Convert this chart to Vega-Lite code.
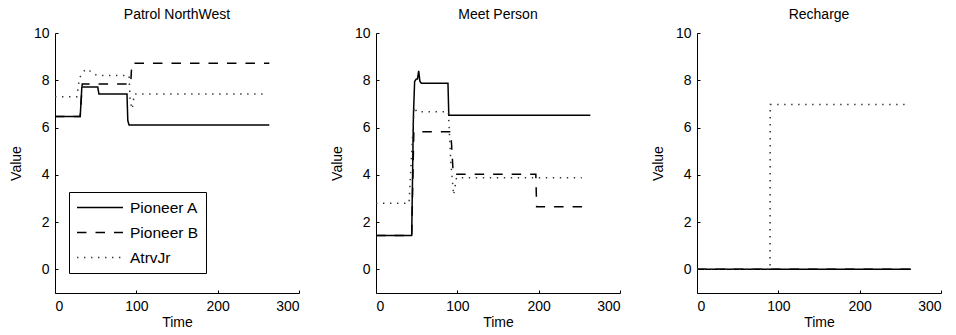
{
  "$schema": "https://vega.github.io/schema/vega-lite/v6.json",
  "padding": {"left": 9, "top": 8, "right": 5, "bottom": 5},
  "background": "white",
  "datasets": {
    "p1": [
      {"s": "Pioneer A", "i": 1, "t": 0, "v": 6.47},
      {"s": "Pioneer A", "i": 2, "t": 31, "v": 6.47},
      {"s": "Pioneer A", "i": 3, "t": 33, "v": 7.72},
      {"s": "Pioneer A", "i": 4, "t": 52.5, "v": 7.72},
      {"s": "Pioneer A", "i": 5, "t": 54, "v": 7.42},
      {"s": "Pioneer A", "i": 6, "t": 88.5, "v": 7.42},
      {"s": "Pioneer A", "i": 7, "t": 89.5, "v": 6.3},
      {"s": "Pioneer A", "i": 8, "t": 91, "v": 6.11},
      {"s": "Pioneer A", "i": 9, "t": 263.5, "v": 6.11},
      {"s": "Pioneer B", "i": 1, "t": 0, "v": 6.47},
      {"s": "Pioneer B", "i": 2, "t": 31, "v": 6.47},
      {"s": "Pioneer B", "i": 3, "t": 33.5, "v": 7.84},
      {"s": "Pioneer B", "i": 4, "t": 93, "v": 7.84},
      {"s": "Pioneer B", "i": 5, "t": 94.5, "v": 8.72},
      {"s": "Pioneer B", "i": 6, "t": 263.5, "v": 8.72},
      {"s": "AtrvJr", "i": 1, "t": 0, "v": 7.3},
      {"s": "AtrvJr", "i": 2, "t": 27, "v": 7.3},
      {"s": "AtrvJr", "i": 3, "t": 30, "v": 8.1},
      {"s": "AtrvJr", "i": 4, "t": 36, "v": 8.4},
      {"s": "AtrvJr", "i": 5, "t": 40, "v": 8.48},
      {"s": "AtrvJr", "i": 6, "t": 46, "v": 8.3},
      {"s": "AtrvJr", "i": 7, "t": 52, "v": 8.2},
      {"s": "AtrvJr", "i": 8, "t": 91, "v": 8.2},
      {"s": "AtrvJr", "i": 9, "t": 92.5, "v": 7.1},
      {"s": "AtrvJr", "i": 10, "t": 95, "v": 6.78},
      {"s": "AtrvJr", "i": 11, "t": 97.5, "v": 7.42},
      {"s": "AtrvJr", "i": 12, "t": 256, "v": 7.42}
    ],
    "p2": [
      {"s": "Pioneer A", "i": 1, "t": 0, "v": 1.43},
      {"s": "Pioneer A", "i": 2, "t": 43.9, "v": 1.43},
      {"s": "Pioneer A", "i": 3, "t": 46, "v": 6.5},
      {"s": "Pioneer A", "i": 4, "t": 47.5, "v": 7.95},
      {"s": "Pioneer A", "i": 5, "t": 49.5, "v": 8.05},
      {"s": "Pioneer A", "i": 6, "t": 51, "v": 8.05},
      {"s": "Pioneer A", "i": 7, "t": 52.5, "v": 8.4},
      {"s": "Pioneer A", "i": 8, "t": 54, "v": 7.95},
      {"s": "Pioneer A", "i": 9, "t": 56, "v": 7.87},
      {"s": "Pioneer A", "i": 10, "t": 88.5, "v": 7.87},
      {"s": "Pioneer A", "i": 11, "t": 89.5, "v": 6.52},
      {"s": "Pioneer A", "i": 12, "t": 263.5, "v": 6.52},
      {"s": "Pioneer B", "i": 1, "t": 0, "v": 1.43},
      {"s": "Pioneer B", "i": 2, "t": 43.9, "v": 1.43},
      {"s": "Pioneer B", "i": 3, "t": 46.5, "v": 5.82},
      {"s": "Pioneer B", "i": 4, "t": 92, "v": 5.82},
      {"s": "Pioneer B", "i": 5, "t": 95, "v": 4.02},
      {"s": "Pioneer B", "i": 6, "t": 196.5, "v": 4.02},
      {"s": "Pioneer B", "i": 7, "t": 197.5, "v": 2.65},
      {"s": "Pioneer B", "i": 8, "t": 263.5, "v": 2.65},
      {"s": "AtrvJr", "i": 1, "t": 0, "v": 2.8},
      {"s": "AtrvJr", "i": 2, "t": 40.6, "v": 2.8},
      {"s": "AtrvJr", "i": 3, "t": 44, "v": 5},
      {"s": "AtrvJr", "i": 4, "t": 47, "v": 6.88},
      {"s": "AtrvJr", "i": 5, "t": 50, "v": 6.67},
      {"s": "AtrvJr", "i": 6, "t": 89, "v": 6.67},
      {"s": "AtrvJr", "i": 7, "t": 92, "v": 4.5},
      {"s": "AtrvJr", "i": 8, "t": 95.5, "v": 3.15},
      {"s": "AtrvJr", "i": 9, "t": 99, "v": 3.88},
      {"s": "AtrvJr", "i": 10, "t": 253, "v": 3.88}
    ],
    "p3": [
      {"s": "Pioneer A", "i": 1, "t": 0, "v": 0},
      {"s": "Pioneer A", "i": 2, "t": 263, "v": 0},
      {"s": "Pioneer B", "i": 1, "t": 0, "v": 0},
      {"s": "Pioneer B", "i": 2, "t": 263, "v": 0},
      {"s": "AtrvJr", "i": 1, "t": 0, "v": 0},
      {"s": "AtrvJr", "i": 2, "t": 89.8, "v": 0},
      {"s": "AtrvJr", "i": 3, "t": 90, "v": 6.98},
      {"s": "AtrvJr", "i": 4, "t": 259, "v": 6.98}
    ]
  },
  "config": {
    "font": "Liberation Sans",
    "view": {"stroke": null},
    "title": {"fontSize": 14, "fontWeight": "normal", "font": "Liberation Sans", "color": "black", "offset": 4},
    "axis": {
      "grid": false,
      "domainColor": "black",
      "domainWidth": 1,
      "tickColor": "black",
      "tickSize": -3,
      "labelFontSize": 14,
      "labelColor": "black",
      "labelFont": "Liberation Sans",
      "titleFontSize": 14,
      "titleFontWeight": "normal",
      "titleColor": "black",
      "titleFont": "Liberation Sans"
    },
    "axisX": {"labelPadding": 9, "titlePadding": 2},
    "axisY": {"labelPadding": 9, "titlePadding": 10}
  },
  "bounds": "flush",
  "spacing": 77,
  "resolve": {"legend": {"strokeDash": "independent", "color": "independent"}},
  "hconcat": [
    {
      "title": "Patrol NorthWest",
      "width": 244,
      "height": 260,
      "data": {"name": "p1"},
      "mark": {"type": "line", "strokeWidth": 1.5},
      "encoding": {
        "x": {"field": "t", "type": "quantitative", "title": "Time", "scale": {"domain": [0, 300], "nice": false}, "axis": {"values": [0, 100, 200, 300]}},
        "y": {"field": "v", "type": "quantitative", "title": "Value", "scale": {"domain": [-1, 10], "nice": false}, "axis": {"values": [0, 2, 4, 6, 8, 10]}},
        "order": {"field": "i", "type": "quantitative"},
        "color": {"field": "s", "type": "nominal", "scale": {"domain": ["Pioneer A", "Pioneer B", "AtrvJr"], "range": ["#000000", "#000000", "#333333"]},
          "legend": {"orient": "none", "legendX": 14, "legendY": 159, "title": null, "symbolType": "M-1,0H5.13", "symbolSize": 225, "symbolStrokeWidth": 1.5, "labelFontSize": 15.5, "labelColor": "black", "labelFont": "Liberation Sans", "labelOffset": 37, "rowPadding": 8, "padding": 7, "strokeColor": "black", "fillColor": "white", "cornerRadius": 0, "labelLimit": 300}},
        "strokeDash": {"field": "s", "type": "nominal", "scale": {"domain": ["Pioneer A", "Pioneer B", "AtrvJr"], "range": [[1, 0], [9.5, 9], [1.4, 5.6]]},
          "legend": {"orient": "none", "legendX": 14, "legendY": 159, "title": null, "symbolType": "M-1,0H5.13", "symbolSize": 225, "symbolStrokeWidth": 1.5, "labelFontSize": 15.5, "labelColor": "black", "labelFont": "Liberation Sans", "labelOffset": 37, "rowPadding": 8, "padding": 7, "strokeColor": "black", "fillColor": "white", "cornerRadius": 0, "labelLimit": 300}}
      }
    },
    {
      "title": "Meet Person",
      "width": 244,
      "height": 260,
      "data": {"name": "p2"},
      "mark": {"type": "line", "strokeWidth": 1.5},
      "encoding": {
        "x": {"field": "t", "type": "quantitative", "title": "Time", "scale": {"domain": [0, 300], "nice": false}, "axis": {"values": [0, 100, 200, 300]}},
        "y": {"field": "v", "type": "quantitative", "title": "Value", "scale": {"domain": [-1, 10], "nice": false}, "axis": {"values": [0, 2, 4, 6, 8, 10]}},
        "order": {"field": "i", "type": "quantitative"},
        "color": {"field": "s", "type": "nominal", "scale": {"domain": ["Pioneer A", "Pioneer B", "AtrvJr"], "range": ["#000000", "#000000", "#333333"]}, "legend": null},
        "strokeDash": {"field": "s", "type": "nominal", "scale": {"domain": ["Pioneer A", "Pioneer B", "AtrvJr"], "range": [[1, 0], [9.5, 9], [1.4, 5.6]]}, "legend": null}
      }
    },
    {
      "title": "Recharge",
      "width": 244,
      "height": 260,
      "data": {"name": "p3"},
      "mark": {"type": "line", "strokeWidth": 1.5},
      "encoding": {
        "x": {"field": "t", "type": "quantitative", "title": "Time", "scale": {"domain": [0, 300], "nice": false}, "axis": {"values": [0, 100, 200, 300]}},
        "y": {"field": "v", "type": "quantitative", "title": "Value", "scale": {"domain": [-1, 10], "nice": false}, "axis": {"values": [0, 2, 4, 6, 8, 10]}},
        "order": {"field": "i", "type": "quantitative"},
        "color": {"field": "s", "type": "nominal", "scale": {"domain": ["Pioneer A", "Pioneer B", "AtrvJr"], "range": ["#000000", "#000000", "#333333"]}, "legend": null},
        "strokeDash": {"field": "s", "type": "nominal", "scale": {"domain": ["Pioneer A", "Pioneer B", "AtrvJr"], "range": [[1, 0], [9.5, 9], [1.4, 5.6]]}, "legend": null}
      }
    }
  ]
}
